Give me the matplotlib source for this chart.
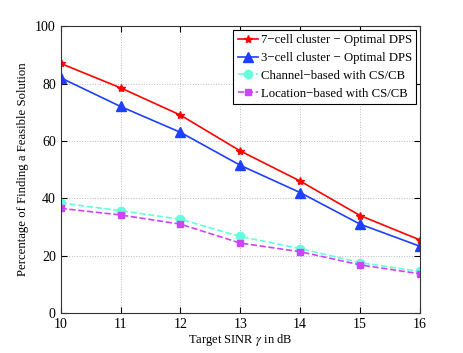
import numpy as np
import matplotlib.pyplot as plt

plt.rcParams['font.family'] = ['Liberation Serif', 'DejaVu Serif']
plt.rcParams['mathtext.fontset'] = 'stix'

sinr = [10, 11, 12, 13, 14, 15, 16]
cell7 = [87, 78.5, 69, 56.5, 46, 34, 25.5]
cell3 = [82, 72, 63, 51.5, 42, 31, 23.3]
chan = [38.4, 35.7, 32.7, 26.7, 22.5, 17.6, 14.5]
loc = [36.5, 34.2, 31.0, 24.4, 21.4, 16.8, 13.7]

fig = plt.figure(figsize=(4.63, 3.53), dpi=100)
ax = fig.add_axes([0.131, 0.113, 0.776, 0.813])

ax.plot(sinr, cell7, color='red', marker='*', markersize=6, lw=1.2,
        label='7\u2212cell cluster \u2212 Optimal DPS')
ax.plot(sinr, cell3, color='#1f3fff', marker='^', markersize=7, lw=1.2,
        label='3\u2212cell cluster \u2212 Optimal DPS')
ax.plot(sinr, chan, color='#66ffdd', marker='o', markersize=6, lw=1.2, ls='--',
        label='Channel\u2212based with CS/CB')
ax.plot(sinr, loc, color='#cc44ff', marker='s', markersize=5, lw=1.2, ls='--',
        label='Location\u2212based with CS/CB')

ax.set_xlim(10, 16)
ax.set_ylim(0, 100)
ax.set_xticks(sinr)
ax.set_yticks([0, 20, 40, 60, 80, 100])
ax.grid(True, ls=':', color='#bbbbbb', lw=0.7)
ax.tick_params(direction='in', labelsize=10, top=True, right=True, length=4)
for s in ax.spines.values():
    s.set_color('#333333')

ax.set_xlabel('Target SINR $\\gamma$ in dB', fontsize=9, labelpad=1)
ax.set_ylabel('Percentage of Finding a Feasible Solution', fontsize=9.2)

leg = ax.legend(loc='upper right', fontsize=9.2, fancybox=False, framealpha=1,
                edgecolor='black', handlelength=1.6, handletextpad=0.2,
                borderpad=0.35, labelspacing=0.45, borderaxespad=0.3)
leg.get_frame().set_linewidth(0.8)

fig.savefig('out.png', dpi=100)
